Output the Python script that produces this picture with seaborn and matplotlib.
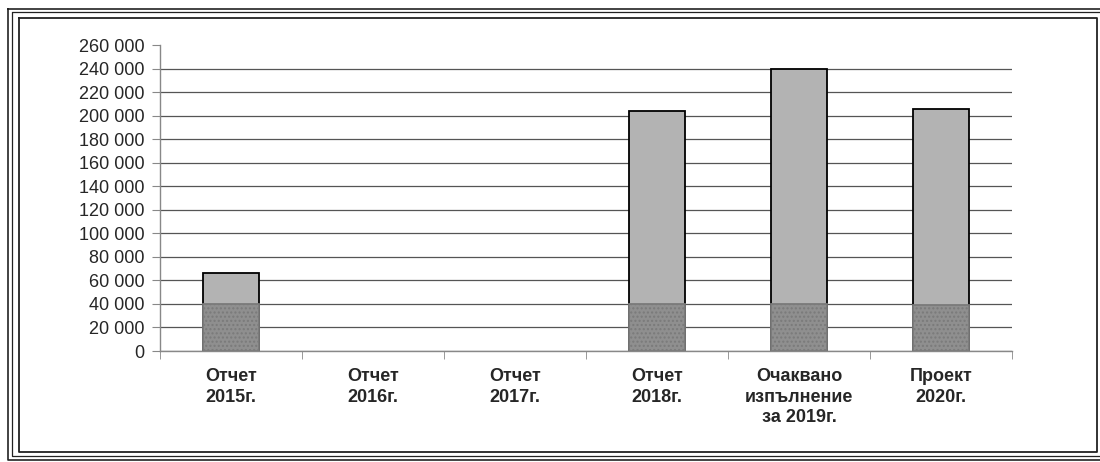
import pandas as pd
import matplotlib
matplotlib.use("Agg")
import matplotlib.pyplot as plt
from matplotlib.lines import Line2D
import seaborn as sns

# данни от графиката
categories = ["Отчет\n2015г.", "Отчет\n2016г.", "Отчет\n2017г.", "Отчет\n2018г.",
              "Очаквано\nизпълнение\nза 2019г.", "Проект\n2020г."]
base_part = [40000, 0, 0, 40000, 40000, 39000]
upper_part = [26000, 0, 0, 164000, 200000, 166500]
y_ticks = list(range(0, 260001, 20000))

df = pd.DataFrame({"cat": categories, "base": base_part, "upper": upper_part})
df["total"] = df["base"] + df["upper"]

sns.set_style("white")
plt.rcParams["font.family"] = ["Liberation Sans", "DejaVu Sans"]

fig = plt.figure(figsize=(11, 4.62), dpi=100)
ax = fig.add_axes([160 / 1100, 1 - 351 / 462, 852 / 1100, 306 / 462])

# горната част (цялата височина), после долната отгоре
sns.barplot(data=df, x="cat", y="total", ax=ax, color="#b3b3b3", width=0.4,
            edgecolor="black", linewidth=1.3, saturation=1)
sns.barplot(data=df, x="cat", y="base", ax=ax, color="#8f8f8f", width=0.4,
            edgecolor="#7a7a7a", linewidth=1.3, hatch="....", saturation=1)

# празните стълбове не се виждат
for p in ax.patches:
    if p.get_height() == 0:
        p.set_visible(False)

ax.set_ylim(0, 260000)
ax.set_xlim(-0.5, len(categories) - 0.5)
ax.set_yticks(y_ticks)
ax.set_yticklabels([f"{v:,}".replace(",", " ") for v in y_ticks], fontsize=13)
ax.set_xticks(range(len(categories)))
ax.set_xticklabels(categories, fontsize=13, fontweight="bold", linespacing=1.3)
ax.set_xlabel("")
ax.set_ylabel("")

ax.yaxis.grid(True, color="#555555", linewidth=0.9)
ax.get_ygridlines()[-1].set_visible(False)
ax.set_axisbelow(True)

for s in ["top", "right"]:
    ax.spines[s].set_visible(False)
for s in ["left", "bottom"]:
    ax.spines[s].set_color("#888888")
    ax.spines[s].set_linewidth(1.0)

ax.tick_params(axis="y", left=True, length=6, color="#888888", pad=5)
ax.tick_params(axis="x", which="major", length=0, pad=12)
ax.set_xticks([i - 0.5 for i in range(len(categories) + 1)], minor=True)
ax.tick_params(axis="x", which="minor", bottom=True, length=6, color="#888888")

# двойна рамка около фигурата
W, H = 1100, 462
def frame(x0, y0, x1, y1, lw):
    xs = [x0 / W, x1 / W, x1 / W, x0 / W, x0 / W]
    ys = [1 - y0 / H, 1 - y0 / H, 1 - y1 / H, 1 - y1 / H, 1 - y0 / H]
    fig.add_artist(Line2D(xs, ys, color="#222222", linewidth=lw))

frame(8, 9, 1108, 460, 1.2)
frame(12, 12, 1108, 456, 0.9)
frame(19, 18, 1097, 452, 1.3)

fig.savefig("out.png", dpi=100)
